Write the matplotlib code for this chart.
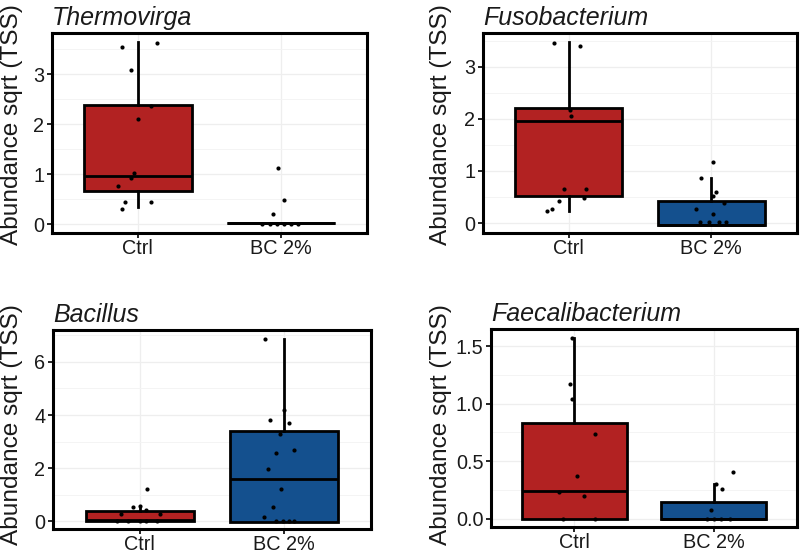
import matplotlib
matplotlib.use("Agg")
import matplotlib.pyplot as plt
from matplotlib.ticker import FormatStrFormatter, MultipleLocator

# ---------------- data ----------------
categories = ["Ctrl", "BC 2%"]
titles = ["Thermovirga", "Fusobacterium", "Bacillus", "Faecalibacterium"]
ylabel = "Abundance sqrt (TSS)"

# box statistics: [whisker low, q1, median, q3, whisker high]
thermo_ctrl_box = [0.34, 0.67, 0.97, 2.38, 3.64]
thermo_bc_box = [0.02, 0.02, 0.02, 0.02, 0.02]
fuso_ctrl_box = [0.24, 0.51, 1.96, 2.20, 3.47]
fuso_bc_box = [-0.04, -0.04, -0.04, 0.43, 0.86]
bac_ctrl_box = [0.00, 0.00, 0.03, 0.37, 0.53]
bac_bc_box = [-0.01, -0.01, 1.58, 3.38, 6.86]
faec_ctrl_box = [0.00, 0.00, 0.24, 0.835, 1.57]
faec_bc_box = [0.00, 0.00, 0.00, 0.145, 0.30]

# individual samples (values) and their horizontal jitter
thermo_ctrl_pts = [3.54, 3.63, 3.08, 2.36, 2.10, 1.03, 0.93, 0.76, 0.44, 0.44, 0.31]
thermo_ctrl_jit = [-0.11, 0.13, -0.05, 0.09, 0.00, -0.03, -0.05, -0.14, -0.09, 0.09, -0.11]
thermo_bc_pts = [1.13, 0.49, 0.20, 0.0, 0.0, 0.0, 0.0, 0.0, 0.0]
thermo_bc_jit = [-0.02, 0.02, -0.06, -0.13, -0.08, -0.03, 0.02, 0.07, 0.12]

fuso_ctrl_pts = [3.45, 3.40, 2.17, 2.06, 0.65, 0.66, 0.49, 0.43, 0.27, 0.23]
fuso_ctrl_jit = [-0.10, 0.08, 0.01, 0.02, -0.03, 0.12, 0.11, -0.07, -0.12, -0.15]
fuso_bc_pts = [1.18, 0.86, 0.59, 0.52, 0.38, 0.27, 0.17, 0.02, 0.02, 0.02, 0.02]
fuso_bc_jit = [0.01, -0.07, 0.03, 0.01, 0.09, -0.11, 0.01, -0.08, -0.02, 0.05, 0.10]

bac_ctrl_pts = [1.20, 0.54, 0.57, 0.44, 0.29, 0.26, 0.0, 0.0, 0.0, 0.0, 0.0]
bac_ctrl_jit = [0.05, -0.05, 0.00, 0.04, -0.13, 0.14, -0.16, -0.08, 0.00, 0.04, 0.12]
bac_bc_pts = [6.88, 4.18, 3.80, 3.71, 3.29, 2.58, 2.67, 1.97, 1.20, 0.53, 0.18, 0.0, 0.0, 0.0, 0.0]
bac_bc_jit = [-0.13, 0.00, -0.10, 0.03, -0.03, -0.06, 0.07, -0.11, -0.02, -0.08, -0.14,
              -0.06, -0.01, 0.03, 0.07]

faec_ctrl_pts = [1.57, 1.17, 1.04, 0.74, 0.37, 0.23, 0.20, 0.0, 0.0]
faec_ctrl_jit = [-0.02, -0.03, -0.02, 0.15, 0.02, -0.11, 0.07, -0.08, 0.15]
faec_bc_pts = [0.41, 0.30, 0.26, 0.08, 0.0, 0.0, 0.0, 0.0]
faec_bc_jit = [0.14, 0.02, 0.06, -0.02, -0.05, 0.00, 0.05, 0.12]

yticks = [[0, 1, 2, 3], [0, 1, 2, 3], [0, 2, 4, 6], [0.0, 0.5, 1.0, 1.5]]
ylims = [(-0.18, 3.82), (-0.19, 3.645), (-0.29, 7.20), (-0.072, 1.648)]

colors = ["#B22222", "#14508E"]

panels = [
    (thermo_ctrl_box, thermo_bc_box, thermo_ctrl_pts, thermo_ctrl_jit, thermo_bc_pts, thermo_bc_jit),
    (fuso_ctrl_box, fuso_bc_box, fuso_ctrl_pts, fuso_ctrl_jit, fuso_bc_pts, fuso_bc_jit),
    (bac_ctrl_box, bac_bc_box, bac_ctrl_pts, bac_ctrl_jit, bac_bc_pts, bac_bc_jit),
    (faec_ctrl_box, faec_bc_box, faec_ctrl_pts, faec_ctrl_jit, faec_bc_pts, faec_bc_jit),
]

# ---------------- layout ----------------
W, H = 800, 554
plt.rcParams['font.family'] = ['Liberation Sans', 'DejaVu Sans']
fig = plt.figure(figsize=(W / 100, H / 100), dpi=100)

# axes rectangles in pixels: left, right, top, bottom
rects_px = [(52, 367, 33, 233), (483, 797, 33, 233), (53, 371, 330, 529), (491, 797, 329, 527)]
ylabel_pos_px = [(12.5, 125), (441, 125), (12.5, 425), (441, 425)]

for i, (rect, data) in enumerate(zip(rects_px, panels)):
    l, r, t, b = rect
    ax = fig.add_axes([l / W, 1 - b / H, (r - l) / W, (b - t) / H])
    cbox, bbox_, cpts, cjit, bpts, bjit = data
    stats = []
    for lab, bx in zip(categories, [cbox, bbox_]):
        stats.append(dict(label=lab, whislo=bx[0], q1=bx[1], med=bx[2], q3=bx[3],
                          whishi=bx[4], fliers=[]))
    bp = ax.bxp(stats, positions=[1, 2], widths=0.75, patch_artist=True,
                showcaps=False, showfliers=False,
                boxprops=dict(linewidth=2.0, edgecolor='black'),
                whiskerprops=dict(linewidth=2.0, color='black'),
                medianprops=dict(linewidth=2.0, color='black'),
                zorder=2)
    for patch, c in zip(bp['boxes'], colors):
        patch.set_facecolor(c)
    for pos, pts, jit in [(1, cpts, cjit), (2, bpts, bjit)]:
        ax.scatter([pos + j for j in jit], pts, s=9, color='black', zorder=4, linewidths=0)

    ax.set_xlim(0.4, 2.6)
    ax.set_ylim(*ylims[i])
    ax.set_xticks([1, 2])
    ax.set_xticklabels(categories)
    ax.set_yticks(yticks[i])
    if i == 3:
        ax.yaxis.set_major_formatter(FormatStrFormatter('%.1f'))
    step = yticks[i][1] - yticks[i][0]
    ax.yaxis.set_minor_locator(MultipleLocator(step / 2))
    ax.grid(True, which='major', color='#EEEEEE', linewidth=0.9, zorder=0)
    ax.grid(True, which='minor', axis='y', color='#F3F3F3', linewidth=0.6, zorder=0)
    ax.set_axisbelow(True)
    ax.tick_params(axis='both', which='major', length=3.5, width=1.2, color='black',
                   labelsize=14.3, labelcolor='#1a1a1a')
    ax.tick_params(axis='y', which='major', pad=2)
    ax.tick_params(axis='x', which='major', pad=1)
    ax.tick_params(axis='y', which='minor', length=0)
    for sp in ax.spines.values():
        sp.set_linewidth(2.2)
        sp.set_color('black')
        sp.set_zorder(5)
    ax.set_title(titles[i], loc='left', fontsize=18, fontstyle='italic', pad=5.5,
                 color='#1a1a1a')
    lx, ly = ylabel_pos_px[i]
    fig.text(lx / W, 1 - ly / H, ylabel, rotation=90, ha='center', va='center',
             fontsize=17.6, color='#1a1a1a')

fig.savefig("out.png", dpi=100)
